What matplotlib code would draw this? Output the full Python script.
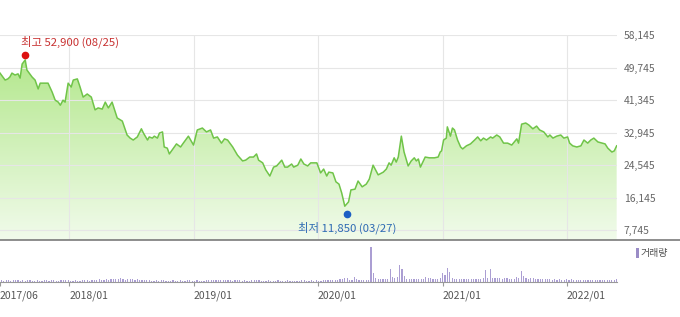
import numpy as np
import pandas as pd
import matplotlib
matplotlib.use('Agg')
import matplotlib.pyplot as plt
import matplotlib.dates as mdates
from matplotlib.colors import LinearSegmentedColormap
from matplotlib.patches import Polygon, Rectangle
from matplotlib.lines import Line2D

plt.rcParams['font.family'] = ['Noto Sans CJK KR', 'DejaVu Sans']

# weekly close prices
price_dates = [
    '2017-06-12', '2017-06-27', '2017-07-05', '2017-07-11', '2017-07-17', '2017-07-26', '2017-08-04', '2017-08-10',
    '2017-08-16', '2017-08-25', '2017-08-30', '2017-09-14', '2017-09-23', '2017-10-02', '2017-10-08', '2017-10-17',
    '2017-10-31', '2017-11-12', '2017-11-21', '2017-11-30', '2017-12-06', '2017-12-14', '2017-12-20', '2017-12-29',
    '2018-01-07', '2018-01-13', '2018-01-25', '2018-02-02', '2018-02-11', '2018-02-23', '2018-03-07', '2018-03-18',
    '2018-03-27', '2018-04-08', '2018-04-17', '2018-04-26', '2018-05-07', '2018-05-22', '2018-06-06', '2018-06-20',
    '2018-06-29', '2018-07-08', '2018-07-20', '2018-08-01', '2018-08-07', '2018-08-19', '2018-08-24', '2018-09-02',
    '2018-09-08', '2018-09-17', '2018-09-23', '2018-10-02', '2018-10-07', '2018-10-16', '2018-10-22', '2018-11-03',
    '2018-11-12', '2018-11-24', '2018-12-02', '2018-12-17', '2019-01-01', '2019-01-12', '2019-01-27', '2019-02-08',
    '2019-02-20', '2019-03-01', '2019-03-12', '2019-03-24', '2019-04-02', '2019-04-11', '2019-04-26', '2019-05-10',
    '2019-05-25', '2019-06-03', '2019-06-15', '2019-06-26', '2019-07-05', '2019-07-11', '2019-07-23', '2019-08-01',
    '2019-08-13', '2019-08-24', '2019-09-02', '2019-09-17', '2019-09-26', '2019-10-04', '2019-10-16', '2019-10-22',
    '2019-11-03', '2019-11-12', '2019-11-21', '2019-12-02', '2019-12-11', '2019-12-20', '2019-12-29', '2020-01-09',
    '2020-01-18', '2020-01-27', '2020-02-02', '2020-02-14', '2020-02-23', '2020-03-03', '2020-03-11', '2020-03-20',
    '2020-03-31', '2020-04-07', '2020-04-19', '2020-04-28', '2020-05-10', '2020-05-22', '2020-05-31', '2020-06-11',
    '2020-06-26', '2020-07-11', '2020-07-20', '2020-07-28', '2020-08-03', '2020-08-12', '2020-08-18', '2020-08-24',
    '2020-09-02', '2020-09-10', '2020-09-22', '2020-10-01', '2020-10-10', '2020-10-16', '2020-10-22', '2020-10-28',
    '2020-11-11', '2020-11-23', '2020-12-08', '2020-12-19', '2020-12-25', '2020-12-29', '2021-01-04', '2021-01-12',
    '2021-01-15', '2021-01-24', '2021-01-30', '2021-02-05', '2021-02-14', '2021-02-23', '2021-03-01', '2021-03-12',
    '2021-03-24', '2021-04-05', '2021-04-14', '2021-04-23', '2021-05-01', '2021-05-10', '2021-05-22', '2021-05-28',
    '2021-06-09', '2021-06-18', '2021-06-29', '2021-07-11', '2021-07-23', '2021-08-07', '2021-08-12', '2021-08-21',
    '2021-09-02', '2021-09-11', '2021-09-23', '2021-10-04', '2021-10-13', '2021-10-25', '2021-11-06', '2021-11-12',
    '2021-11-21', '2021-12-02', '2021-12-14', '2021-12-23', '2022-01-03', '2022-01-09', '2022-01-18', '2022-01-30',
    '2022-02-11', '2022-02-20', '2022-03-03', '2022-03-12', '2022-03-21', '2022-04-02', '2022-04-14', '2022-04-23',
    '2022-05-01', '2022-05-13', '2022-05-20', '2022-05-27',
]
price_vals = [
    48300, 46500, 46800, 47300, 48300, 47800, 48100, 47000,
    50650, 51700, 49100, 47300, 46500, 44200, 45700, 45700,
    45700, 43400, 41300, 40800, 40000, 41300, 40800, 45700,
    44700, 46500, 46800, 44700, 42100, 42900, 42100, 38800,
    39300, 39000, 40800, 39300, 40800, 36700, 35900, 32300,
    31500, 31000, 31800, 33900, 32800, 31000, 31800, 31500,
    32000, 31500, 32800, 33100, 29200, 28900, 27400, 28900,
    30000, 29200, 30200, 32000, 29700, 33600, 34100, 33100,
    33600, 31500, 31800, 30200, 31300, 31000, 29200, 27100,
    25600, 25800, 26600, 26600, 27400, 25800, 25100, 23300,
    21700, 24000, 24300, 25800, 24000, 24000, 24800, 24000,
    24500, 26100, 24800, 24300, 25100, 25100, 25100, 22500,
    23500, 21700, 22700, 22500, 20200, 19600, 17300, 13900,
    15000, 18100, 18300, 20400, 18900, 19600, 20900, 24500,
    22000, 22700, 23500, 25100, 24500, 26400, 25300, 26600,
    32000, 27900, 24300, 25600, 26400, 25600, 26100, 24000,
    26600, 26400, 26400, 26600, 27900, 28200, 31000, 31500,
    34400, 32000, 34100, 33600, 31000, 29200, 28700, 29500,
    30000, 31000, 31800, 30800, 31500, 31000, 31800, 31500,
    32300, 31800, 30200, 30200, 29700, 31300, 30200, 35100,
    35400, 34900, 33900, 34600, 33600, 33100, 31800, 32300,
    31500, 32000, 32300, 31500, 31800, 30200, 29500, 29200,
    29500, 31000, 30200, 31000, 31500, 30500, 30200, 30000,
    28900, 27900, 28200, 29500,
]

# weekly volume (thousand shares), first week 2017-06-16
vol_start = '2017-06-16'
vol = [
    # 2017
    180, 150, 220, 160, 140, 210, 250, 170, 150, 190, 130, 160, 200, 150, 140, 170, 120, 150, 180, 200,
    140, 160, 210, 150, 130, 180, 220, 160,
    # 2018
    200, 140, 120, 180, 150, 130, 160, 220, 170, 150, 240, 200, 180, 260, 220, 190, 280, 240, 300, 350,
    260, 320, 380, 300, 250, 340, 290, 260, 220, 300, 240, 210, 180, 160, 200, 150, 140, 170, 130, 160,
    200, 150, 120, 140, 180, 130, 150, 170, 140, 120, 160, 200, 150,
    # 2019
    130, 170, 150, 120, 140, 160, 180, 220, 200, 170, 240, 190, 160, 200, 230, 180, 150, 170, 200, 160,
    140, 180, 150, 130, 160, 190, 220, 170, 150, 140, 130, 160, 150, 120, 140, 170, 130, 150, 120, 160,
    140, 130, 150, 120, 140, 160, 200, 150, 130, 170, 140, 160,
    # 2020
    150, 130, 200, 180, 160, 190, 220, 180, 250, 300, 270, 450, 420, 240, 200, 500, 260, 220, 230, 210,
    250, 240, 3500, 900, 430, 300, 280, 300, 260, 300, 1300, 500, 400, 520, 1700, 1300, 600, 350, 300, 330,
    280, 270, 320, 300, 350, 500, 450, 380, 340, 300, 350, 400, 900,
    # 2021
    700, 1400, 1000, 400, 320, 350, 280, 300, 260, 330, 290, 270, 300, 350, 280, 320, 400, 1200, 450, 1300,
    450, 420, 380, 400, 350, 420, 380, 340, 300, 350, 500, 380, 1100, 600, 400, 350, 420, 380, 300, 350,
    320, 280, 300, 260, 280, 250, 300, 220, 260, 240, 200, 260,
    # 2022
    230, 280, 200, 250, 220, 190, 240, 210, 230, 180, 200, 220, 190, 210, 180, 200, 230, 190, 250, 220,
    260,
]

y_ticks = [7745, 16145, 24545, 32945, 41345, 49745, 58145]
x_tick_dates = ['2017-06-12', '2018-01-01', '2019-01-01', '2020-01-01', '2021-01-01', '2022-01-01']
x_tick_labels = ['2017/06', '2018/01', '2019/01', '2020/01', '2021/01', '2022/01']

high_date, high_val, high_label = '2017-08-25', 52900, '최고 52,900 (08/25)'
low_date, low_val, low_label = '2020-03-27', 11850, '최저 11,850 (03/27)'

x = mdates.date2num(pd.to_datetime(price_dates))
y = np.array(price_vals)
vx = mdates.date2num(pd.date_range(vol_start, periods=len(vol), freq='7D'))
xlim = (mdates.date2num(pd.Timestamp('2017-06-12')), mdates.date2num(pd.Timestamp('2022-05-28')))
ylim = (5161, 58145)

W, H = 680, 317
fig = plt.figure(figsize=(W / 100, H / 100), dpi=100)
ax = fig.add_axes([0, 1 - 240 / H, 617 / W, 205 / H])
axv = fig.add_axes([0, 1 - 282 / H, 617 / W, 42 / H])

# price area with vertical gradient
cmap = LinearSegmentedColormap.from_list('grn', ['#f1fbeb', '#ace581'])
grad = np.linspace(0, 1, 256).reshape(-1, 1)
im = ax.imshow(grad, aspect='auto', cmap=cmap, origin='lower',
               extent=[xlim[0], xlim[1], ylim[0], ylim[1]], zorder=1)
verts = np.column_stack([np.r_[x[0], x, x[-1]], np.r_[ylim[0], y, ylim[0]]])
clip = Polygon(verts, closed=True, facecolor='none', edgecolor='none', transform=ax.transData)
ax.add_patch(clip)
im.set_clip_path(clip)
ax.plot(x, y, color='#70c449', lw=1.1, zorder=3)

ax.set_xlim(xlim)
ax.set_ylim(ylim)
ax.set_xticks(mdates.date2num(pd.to_datetime(x_tick_dates[1:])))
ax.set_yticks(y_ticks)
ax.set_yticklabels([f'{v:,}' for v in y_ticks])
ax.yaxis.tick_right()
ax.tick_params(axis='x', length=0, labelbottom=False)
ax.tick_params(axis='y', length=0, pad=5, labelsize=7.4, labelcolor='#666666')
ax.grid(True, color='#e6e6e6', lw=0.8, zorder=2)
ax.set_axisbelow(False)
for s in ax.spines.values():
    s.set_visible(False)
ax.patch.set_alpha(0)

# high / low markers
hx = mdates.date2num(pd.Timestamp(high_date))
lx = mdates.date2num(pd.Timestamp(low_date))
ax.plot([hx], [high_val], 'o', color='#dd1111', ms=4.5, zorder=4, clip_on=False)
ax.plot([lx], [low_val], 'o', color='#1c5fc4', ms=4.5, zorder=4, clip_on=False)
ax.annotate(high_label, (hx, high_val), xytext=(-3, 9.5), textcoords='offset points',
            ha='left', va='center', fontsize=8.2, color='#c83232')
ax.annotate(low_label, (lx, low_val), xytext=(0, -10), textcoords='offset points',
            ha='center', va='center', fontsize=8.2, color='#2f6cb3')

# volume
axv.bar(vx, vol, width=3.5, color='#ab9ed3', zorder=2)
axv.set_xlim(xlim)
axv.set_ylim(0, 4200)
axv.set_yticks([])
axv.set_xticks(mdates.date2num(pd.to_datetime(x_tick_dates)))
axv.set_xticklabels(x_tick_labels)
for lbl in axv.get_xticklabels():
    lbl.set_ha('left')
axv.tick_params(axis='x', direction='out', length=3, width=0.8, color='#999999',
                pad=3, labelsize=7.5, labelcolor='#555555')
for k in ['top', 'left', 'right']:
    axv.spines[k].set_visible(False)
axv.spines['bottom'].set_color('#999999')
axv.spines['bottom'].set_linewidth(0.8)
axv.patch.set_alpha(0)

# panel separator
fig.add_artist(Line2D([0, 1], [1 - 240 / H, 1 - 240 / H], transform=fig.transFigure, color='#7a7a7a', lw=1.2))

# volume legend
fig.add_artist(Rectangle((636 / W, 1 - 258 / H), 2.5 / W, 10 / H, transform=fig.transFigure,
                         facecolor='#9a8cc6', edgecolor='none'))
fig.text(641 / W, 1 - 253 / H, '거래량', ha='left', va='center', fontsize=7.2, color='#555555')

plt.savefig('out.png', dpi=100)
plt.close()
